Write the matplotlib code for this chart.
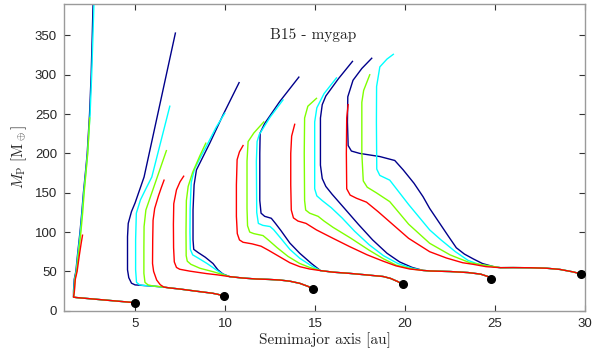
import matplotlib
matplotlib.use('Agg')
import matplotlib.pyplot as plt

plt.rcParams['mathtext.fontset'] = 'cm'

# starting positions (au) and core masses (M_earth) of the planets
start_a = [5.0, 9.95, 14.9, 19.86, 24.8, 29.8]
start_m = [10.2, 18.7, 27.6, 33.6, 40.3, 46.7]

colors = ['#00008b', '#00ffff', '#7fff00', '#ff0000']  # navy, cyan, green, red

# --- a0 = 5 au ---
low_a5 = [(5.0, 10.2), (4.0, 12.2), (3.0, 14.2), (2.2, 15.8), (1.75, 16.7), (1.58, 17.2)]
a5_navy = low_a5 + [(1.58, 25), (1.62, 40), (1.71, 50), (1.82, 75), (1.94, 100), (2.04, 125),
                    (2.13, 150), (2.26, 180), (2.34, 200), (2.47, 250), (2.56, 300), (2.62, 350), (2.67, 395)]
a5_cyan = low_a5 + [(1.6, 25), (1.64, 40), (1.73, 50), (1.84, 75), (1.96, 100), (2.06, 125),
                    (2.15, 150), (2.28, 180), (2.36, 200), (2.5, 250), (2.59, 300), (2.66, 350), (2.72, 395)]
a5_green = low_a5 + [(1.62, 25), (1.66, 40), (1.75, 50), (1.87, 75), (1.99, 100), (2.09, 125),
                     (2.17, 150), (2.29, 180), (2.37, 200), (2.48, 245)]
a5_red = low_a5 + [(1.63, 25), (1.68, 40), (1.78, 50), (1.9, 70), (2.0, 85), (2.08, 96)]

# --- a0 = 10 au ---
low_a10 = [(9.95, 18.7), (9.6, 20.8), (9.3, 22.2), (8.4, 24.8), (7.5, 27.5), (6.9, 29.0), (6.6, 30.0)]
a10_navy = low_a10 + [(6.0, 31.2), (5.5, 32.0), (5.0, 32.8), (4.8, 35), (4.65, 42), (4.58, 52),
                      (4.58, 94), (4.62, 111), (4.8, 126), (5.0, 137), (5.5, 170), (7.24, 353)]
a10_cyan = low_a10 + [(6.0, 31.2), (5.5, 32.0), (5.26, 32.8), (5.08, 36), (5.03, 52), (5.03, 90),
                      (5.07, 124), (5.3, 141), (5.6, 155), (5.93, 170), (6.93, 260)]
a10_green = low_a10 + [(6.0, 31.4), (5.72, 32.8), (5.55, 36), (5.49, 47.5), (5.49, 80), (5.5, 107),
                       (5.6, 128), (6.37, 179), (6.74, 203.5)]
a10_red = low_a10 + [(6.4, 33), (6.2, 39), (6.03, 50), (5.97, 60), (5.98, 90), (6.0, 115),
                     (6.09, 130), (6.3, 146), (6.45, 156), (6.61, 166)]

# --- a0 = 15 au ---
low_a15 = [(14.9, 27.6), (14.6, 31), (14.15, 34.8), (13.6, 37.5), (13.04, 39), (12.4, 39.8),
           (11.74, 40.3), (11.0, 41.5), (10.26, 43.3)]
a15_navy = low_a15 + [(9.88, 46.7), (9.6, 52), (9.33, 60), (8.9, 68), (8.5, 74), (8.26, 78),
                      (8.22, 90), (8.22, 128), (8.28, 160), (8.41, 179), (9.15, 213), (9.89, 249), (10.78, 290)]
a15_cyan = low_a15 + [(9.9, 46), (9.52, 51.8), (9.0, 60), (8.5, 67), (8.2, 71), (8.07, 78),
                      (8.05, 100), (8.06, 130), (8.12, 163), (8.3, 180), (8.7, 198), (9.05, 213),
                      (9.5, 233), (9.98, 251)]
a15_green = low_a15 + [(9.33, 49.6), (8.6, 54), (8.1, 59), (7.9, 63), (7.84, 70), (7.83, 100),
                       (7.85, 140), (7.95, 158), (8.2, 176), (8.6, 197), (8.93, 213)]
a15_red = low_a15 + [(9.6, 45.5), (8.96, 47.2), (8.04, 50.3), (7.48, 52.7), (7.3, 55), (7.18, 62),
                     (7.14, 80), (7.13, 110), (7.15, 136), (7.3, 153.6), (7.5, 164), (7.7, 171)]

# --- a0 = 20 au ---
low_a20 = [(19.86, 33.6), (19.6, 37), (19.2, 41), (18.78, 43.5), (17.86, 45.5), (16.9, 47.5),
           (16.0, 49), (15.3, 51)]
a20_navy = low_a20 + [(14.8, 60), (14.15, 73), (13.6, 86), (13.1, 102), (12.8, 111), (12.57, 117.5),
                      (12.2, 120), (12.0, 124), (11.93, 140), (11.93, 200), (11.95, 226), (12.2, 238),
                      (13.04, 266), (14.1, 297)]
a20_cyan = low_a20 + [(14.8, 57), (14.15, 66.7), (13.6, 78), (13.1, 92), (12.7, 103), (12.5, 107),
                      (12.1, 108.5), (11.85, 111), (11.76, 125), (11.74, 190), (11.78, 215),
                      (11.9, 224), (12.5, 246), (13.22, 268)]
a20_green = low_a20 + [(14.7, 55), (14.15, 60), (13.5, 69), (12.9, 80), (12.4, 90), (12.11, 95.5),
                       (11.6, 98), (11.37, 100), (11.25, 108), (11.22, 130), (11.22, 190),
                       (11.28, 215), (11.6, 226), (12.15, 240)]
a20_red = low_a20 + [(14.7, 53), (14.15, 56), (13.6, 61), (13.0, 69), (12.4, 77), (12.0, 82),
                     (11.5, 85), (11.0, 87), (10.8, 90), (10.68, 98), (10.63, 120), (10.63, 160),
                     (10.67, 192), (10.8, 202), (11.0, 210)]

# --- a0 = 25 au ---
low_a25 = [(24.8, 40.3), (24.6, 43.5), (24.2, 46.5), (23.5, 48.5), (22.5, 49.8), (21.4, 50.5),
           (21.0, 51.2)]
a25_navy = low_a25 + [(20.4, 55), (19.7, 62), (19.0, 73), (18.2, 90), (17.4, 110), (16.6, 131),
                      (15.95, 148), (15.6, 158), (15.4, 168), (15.3, 185), (15.3, 245), (15.4, 262),
                      (15.6, 273), (16.3, 295), (17.08, 317)]
a25_cyan = low_a25 + [(20.4, 54), (19.6, 60), (18.8, 70), (18.0, 84), (17.2, 101), (16.5, 118),
                      (15.9, 131), (15.4, 140), (15.1, 146), (14.98, 155), (14.98, 240), (15.1, 258),
                      (15.5, 276), (16.19, 296)]
a25_green = low_a25 + [(20.4, 53), (19.5, 58), (18.8, 66), (18.0, 77), (17.0, 92), (16.0, 106),
                       (15.5, 114), (15.17, 120), (14.7, 124), (14.48, 128), (14.42, 140),
                       (14.4, 200), (14.42, 245), (14.6, 260), (15.08, 270)]
a25_red = low_a25 + [(20.26, 53), (19.5, 57), (18.78, 63), (17.9, 71), (16.93, 81.4), (16.0, 92),
                     (15.08, 102.7), (14.5, 111), (14.05, 114), (13.8, 118), (13.68, 128),
                     (13.65, 160), (13.65, 200), (13.7, 222), (13.87, 237)]

# --- a0 = 30 au ---
low_a30 = [(29.8, 46.7), (29.3, 49.5), (28.6, 52.5), (27.86, 54), (27.0, 54.6), (26.0, 54.8),
           (25.3, 54.7)]
a30_navy = low_a30 + [(25.0, 55.5), (24.3, 60), (23.78, 66), (23.3, 72), (22.85, 80), (22.4, 95),
                      (21.93, 111), (21.37, 130), (21.0, 145), (20.5, 162), (19.9, 179), (19.43, 191),
                      (18.6, 196), (17.48, 200), (17.02, 203), (16.84, 210), (16.8, 240),
                      (16.82, 272), (17.11, 293), (17.6, 308), (18.15, 321)]
a30_cyan = low_a30 + [(24.9, 56), (24.15, 58.5), (23.5, 64), (22.8, 75), (22.0, 90), (21.37, 102.7),
                      (20.2, 135), (19.15, 166), (18.6, 172), (18.43, 180), (18.41, 240),
                      (18.42, 285), (18.6, 310), (19.0, 320), (19.35, 326)]
a30_green = low_a30 + [(24.7, 57), (23.6, 61), (22.5, 71), (21.37, 85.7), (20.2, 110),
                       (19.15, 138.7), (18.4, 150), (17.9, 157), (17.68, 165), (17.6, 200),
                       (17.6, 265), (17.7, 280), (18.04, 300)]
a30_red = low_a30 + [(24.5, 56), (23.78, 59), (23.2, 61), (22.3, 67), (21.37, 75), (20.2, 92),
                     (19.15, 113), (18.5, 126), (17.86, 138), (17.3, 143), (16.95, 147),
                     (16.76, 155), (16.74, 200), (16.76, 245), (16.84, 262)]

groups = [
    [a5_navy, a5_cyan, a5_green, a5_red],
    [a10_navy, a10_cyan, a10_green, a10_red],
    [a15_navy, a15_cyan, a15_green, a15_red],
    [a20_navy, a20_cyan, a20_green, a20_red],
    [a25_navy, a25_cyan, a25_green, a25_red],
    [a30_navy, a30_cyan, a30_green, a30_red],
]

fig = plt.figure(figsize=(5.93, 3.55), dpi=100)
ax = fig.add_axes([0.1079, 0.1248, 0.8786, 0.864])

for tracks in groups:
    for track, c in zip(tracks, colors):
        xs = [p[0] for p in track]
        ys = [p[1] for p in track]
        ax.plot(xs, ys, color=c, lw=1.0, solid_joinstyle='round')

ax.plot(start_a, start_m, 'o', color='black', ms=5.5, zorder=5)

ax.set_xlim(1.05, 30.0)
ax.set_ylim(0, 390)
ax.set_xticks([5, 10, 15, 20, 25, 30])
ax.set_yticks([0, 50, 100, 150, 200, 250, 300, 350])

for s in ax.spines.values():
    s.set_color('#9a9a9a')
    s.set_linewidth(1.0)
ax.tick_params(direction='in', top=True, right=True, length=4, width=0.8,
               color='#333333', labelcolor='#262626', labelsize=9.5, pad=5)
for lab in ax.get_xticklabels() + ax.get_yticklabels():
    lab.set_family('Liberation Sans')

# LaTeX-looking labels use the Computer Modern font bundled with matplotlib
ax.set_xlabel('Semimajor axis [au]', family='cmr10', fontsize=11, labelpad=2,
              color='#262626')
ax.set_ylabel(r'$M_{\rm P}\ [{\rm M}_\oplus]$', fontsize=11, labelpad=4, color='#262626')
ax.text(14.9, 351, 'B15 - mygap', ha='center', va='center', fontsize=11,
        family='cmr10', color='#262626')

fig.savefig('out.png', dpi=100)
